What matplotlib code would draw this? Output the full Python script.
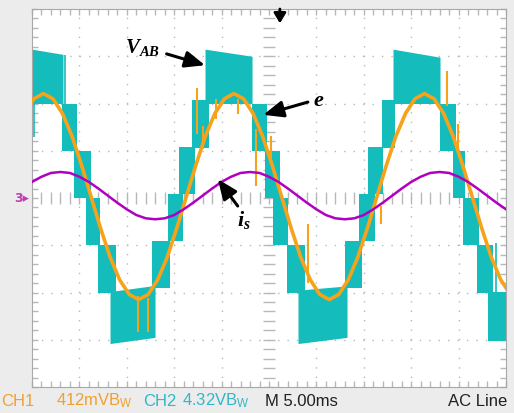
import matplotlib.pyplot as plt
import numpy as np

plt.rcParams['mathtext.fontset'] = 'custom'
plt.rcParams['mathtext.rm'] = 'Liberation Serif'
plt.rcParams['mathtext.it'] = 'Liberation Serif:italic'
plt.rcParams['mathtext.bf'] = 'Liberation Serif:bold'
plt.rcParams['mathtext.bfit'] = 'Liberation Serif:italic:bold'

# x = time in ms (5 ms/div, 10 div), y = screen divisions (8 div)

# V_AB : multilevel PWM, one band per step (start/end in ms, low/high level at start/end)
vab_t0 = [0.0, 3.16, 4.43, 5.70, 6.96, 8.23, 12.66, 14.35, 15.51, 16.88, 18.25,
          23.21, 24.58, 25.42, 26.90, 28.06, 33.02, 34.50, 35.44, 36.92, 38.08,
          43.04, 44.41, 45.47, 46.94, 48.10]
vab_t1 = [3.27, 4.75, 6.22, 7.17, 8.86, 12.98, 14.56, 15.93, 17.19, 18.67, 23.21,
          24.79, 26.16, 27.01, 28.80, 33.23, 34.81, 36.18, 37.03, 38.29, 43.04,
          44.73, 45.68, 47.15, 48.63, 50.0]
vab_lo0 = [2.0, 1.0, 0.0, -1.0, -2.0, -3.08, -1.9, -0.9, 0.08, 1.05, 2.0,
           1.0, 0.0, -1.0, -2.0, -3.08, -1.9, -0.9, 0.08, 1.05, 2.0,
           1.0, 0.0, -1.0, -2.0, -3.03]
vab_lo1 = [2.0, 1.0, 0.0, -1.0, -2.0, -2.95, -1.9, -0.9, 0.08, 1.05, 2.0,
           1.0, 0.0, -1.0, -2.0, -2.95, -1.9, -0.9, 0.08, 1.05, 2.0,
           1.0, 0.0, -1.0, -2.0, -3.03]
vab_hi0 = [3.15, 2.0, 1.0, 0.0, -1.0, -1.98, -0.9, 0.08, 1.08, 2.08, 3.15,
           2.0, 1.0, 0.0, -1.0, -1.95, -0.9, 0.08, 1.08, 2.08, 3.15,
           2.0, 1.0, 0.0, -1.0, -1.99]
vab_hi1 = [3.04, 2.0, 1.0, 0.0, -1.0, -1.85, -0.9, 0.08, 1.08, 2.08, 3.0,
           2.0, 1.0, 0.0, -1.0, -1.86, -0.9, 0.08, 1.08, 2.08, 2.98,
           2.0, 1.0, 0.0, -1.0, -1.99]
# thin switching lines outside the bands
vab_line_t = [0.25, 3.48, 48.9]
vab_line_lo = [1.3, 2.0, -2.0]
vab_line_hi = [2.0, 3.02, -0.95]

# e : grid voltage
e_t = [-0.81, 0.2, 1.2, 2.21, 3.21, 4.22, 5.22, 6.23, 7.23, 8.24, 9.24,
       10.25, 11.25, 12.26, 13.26, 14.27, 15.27, 16.28, 17.29, 18.29, 19.29,
       20.3, 21.3, 22.31, 23.32, 24.32, 25.33, 26.33, 27.34, 28.34, 29.35,
       30.35, 31.36, 32.36, 33.37, 34.37, 35.38, 36.38, 37.39, 38.39, 39.4,
       40.4, 41.4, 42.41, 43.42, 44.42, 45.42, 46.43, 47.44, 48.44, 49.44, 50.45]
e_v = [1.79, 2.10, 2.21, 2.10, 1.79, 1.31, 0.70, 0.03, -0.64, -1.25, -1.73,
       -2.04, -2.15, -2.04, -1.73, -1.25, -0.64, 0.03, 0.70, 1.31, 1.79,
       2.10, 2.21, 2.10, 1.79, 1.31, 0.70, 0.03, -0.64, -1.25, -1.73,
       -2.04, -2.15, -2.04, -1.73, -1.25, -0.64, 0.03, 0.70, 1.31, 1.79,
       2.10, 2.21, 2.10, 1.79, 1.31, 0.70, 0.03, -0.64, -1.25, -1.73, -2.04]
# glitches on e
e_spike_t = [11.2, 12.2, 17.4, 18.0, 19.4, 21.7, 23.6, 25.2, 29.1, 36.8, 43.8, 44.9]
e_spike_lo = [-2.84, -2.84, 1.35, 1.04, 1.67, 1.78, 0.25, 0.85, -1.8, -0.55, 1.94, 1.04]
e_spike_hi = [-2.08, -2.12, 2.33, 1.52, 2.09, 2.09, 1.46, 1.31, -0.55, -0.17, 2.69, 1.57]

# i_s : source current
is_t = list(range(0, 51))
is_v = [0.34, 0.45, 0.53, 0.55, 0.53, 0.45, 0.34, 0.20, 0.05, -0.10,
        -0.24, -0.36, -0.43, -0.45, -0.43, -0.36, -0.24, -0.10, 0.05, 0.20,
        0.34, 0.45, 0.53, 0.55, 0.53, 0.45, 0.34, 0.20, 0.05, -0.10,
        -0.24, -0.36, -0.43, -0.45, -0.43, -0.36, -0.24, -0.10, 0.05, 0.20,
        0.34, 0.45, 0.53, 0.55, 0.53, 0.45, 0.34, 0.20, 0.05, -0.10, -0.24]

cyan = '#14bcbc'
orange = '#f7a21b'
purple = '#b000c0'
gridc = '#b8b8b8'

fig = plt.figure(figsize=(5.14, 4.14), dpi=100, facecolor='#ececec')
ax = fig.add_axes([32 / 514, 1 - 388 / 414, 474 / 514, 378 / 414])
ax.set_facecolor('white')
ax.set_xlim(0, 50)
ax.set_ylim(-4, 4)

# scope graticule
for gx in [5, 10, 15, 20, 30, 35, 40, 45]:
    ax.axvline(gx, color=gridc, lw=1, ls=(0, (1, 5.8)), zorder=1)
for gy in [-3, -2, -1, 1, 2, 3]:
    ax.axhline(gy, color=gridc, lw=1, ls=(0, (1, 5.8)), zorder=1)
xt = np.arange(0, 50.01, 1.0)
yt = np.arange(-4, 4.01, 0.2)
ax.plot(xt, np.zeros_like(xt), ls='none', marker='|', ms=8, mew=1, color=gridc, zorder=1)
ax.plot(np.full_like(yt, 25.0), yt, ls='none', marker='_', ms=8, mew=1, color=gridc, zorder=1)
ax.set_xticks(xt)
ax.set_yticks(yt)
ax.tick_params(direction='in', length=4, width=1, color=gridc, top=True, right=True,
               labelbottom=False, labelleft=False)
for s in ax.spines.values():
    s.set_color('#a8a8a8')

# V_AB bands
for i in range(len(vab_t0)):
    ax.fill_between([vab_t0[i], vab_t1[i]], [vab_lo0[i], vab_lo1[i]],
                    [vab_hi0[i], vab_hi1[i]], color=cyan, lw=0, zorder=2)
ax.vlines(vab_line_t, vab_line_lo, vab_line_hi, color=cyan, lw=1.2, zorder=2)

# e
ax.plot(e_t, e_v, color=orange, lw=2.6, zorder=3)
ax.vlines(e_spike_t, e_spike_lo, e_spike_hi, color=orange, lw=1.5, zorder=3)

# i_s
ax.plot(is_t, is_v, color=purple, lw=1.8, zorder=4)

# trigger mark
ax.annotate('', xy=(0.523, 0.962), xytext=(0.523, 1.0), xycoords='axes fraction',
            arrowprops=dict(arrowstyle='-|>,head_length=0.5,head_width=0.3', color='black',
                            lw=2, mutation_scale=12, shrinkA=0, shrinkB=0))

# labels
arr = dict(arrowstyle='-|>,head_length=0.6,head_width=0.25', color='black', lw=2.2,
           mutation_scale=20, shrinkA=0, shrinkB=0)
ax.text(9.8, 3.2, r'$\mathbfit{V}_{\mathbfit{AB}}$', fontsize=15, ha='left', va='center', zorder=6)
ax.annotate('', xy=(18.25, 2.81), xytext=(14.2, 3.05), arrowprops=arr, zorder=6)
ax.text(29.6, 2.1, r'$\mathbfit{e}$', fontsize=16, ha='left', va='center', zorder=6)
ax.annotate('', xy=(24.4, 1.76), xytext=(29.1, 2.03), arrowprops=arr, zorder=6)
ax.text(21.6, -0.45, r'$\mathbfit{i}_{\mathbfit{s}}$', fontsize=16, ha='left', va='center', zorder=6)
ax.annotate('', xy=(19.6, 0.4), xytext=(21.7, -0.17), arrowprops=arr, zorder=6)

# channel 3 ground marker
fig.text(14 / 514, 1 - 199 / 414, '3\u25b8', color='#c03cb0', fontsize=9, weight='bold',
         va='center', ha='left')

# status line
sfont = dict(fontsize=12, family='Liberation Sans', va='baseline')
by = 8 / 414
fig.text(1 / 514, by, 'CH1', color='#f0a030', **sfont)
fig.text(56 / 514, by, r'412mVB$_\mathregular{W}$', color='#f0a030', **sfont)
fig.text(143 / 514, by, 'CH2', color='#30b8c8', **sfont)
fig.text(182 / 514, by, r'4.32VB$_\mathregular{W}$', color='#30b8c8', **sfont)
fig.text(265 / 514, by, 'M 5.00ms', color='#202020', **sfont)
fig.text(507 / 514, by, 'AC Line', color='#202020', ha='right', **sfont)

fig.savefig('out.png', dpi=100, facecolor=fig.get_facecolor())
